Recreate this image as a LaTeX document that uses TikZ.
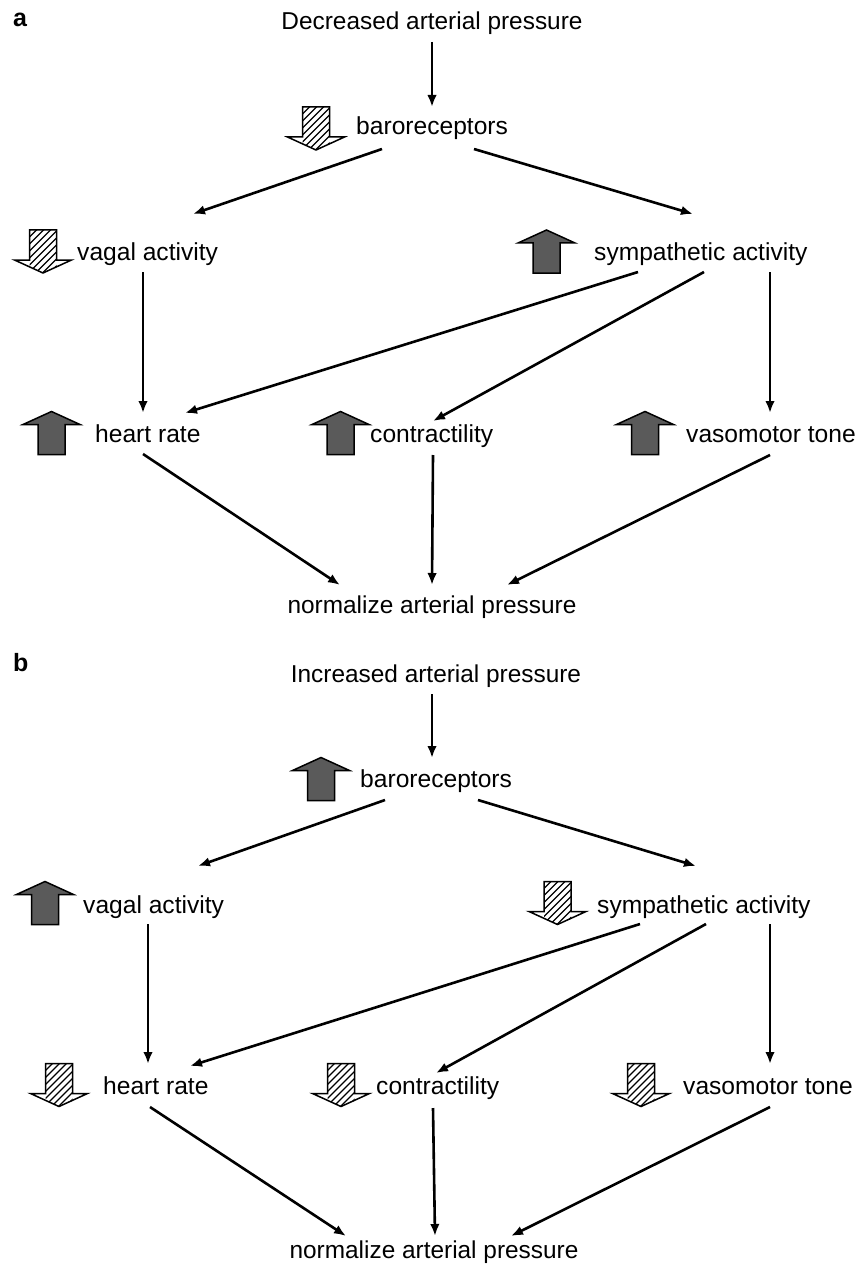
\documentclass[tikz,border=0pt]{standalone}
\usepackage{fontspec}
\setmainfont{Liberation Sans}
\usetikzlibrary{arrows.meta,calc}
\definecolor{arrgrey}{RGB}{90,90,90}
\tikzset{
  lbl/.style={font=\fontsize{24.6pt}{29pt}\selectfont, inner sep=0pt, anchor=base west},
  ttl/.style={font=\fontsize{24.4pt}{29pt}\selectfont, inner sep=0pt, anchor=base},
  panel/.style={font=\bfseries\fontsize{25pt}{29pt}\selectfont, inner sep=0pt, anchor=base west},
  conn/.style={line width=2.6pt, -{Latex[length=12pt,width=9.5pt]}},
  uparr/.pic={
    \draw[line width=1.5pt, fill=arrgrey, line join=miter]
      (0,-21.5) -- (28.5,-8.5) -- (13.5,-8.5) -- (13.5,21.5) -- (-13.5,21.5) -- (-13.5,-8.5) -- (-28.5,-8.5) -- cycle;
  },
  downarr/.pic={
    \begin{scope}
      \clip (0,21.5) -- (28.5,8.5) -- (13.5,8.5) -- (13.5,-21.5) -- (-13.5,-21.5) -- (-13.5,8.5) -- (-28.5,8.5) -- cycle;
      \clip (-13.5,-22) rectangle (13.5,22);
      \foreach \k in {-56,-49,...,56} \draw[line width=1.2pt] ({\k-22},22) -- ({\k+22},-22);
    \end{scope}
    \draw[line width=1.5pt, line join=miter]
      (0,21.5) -- (28.5,8.5) -- (13.5,8.5) -- (13.5,-21.5) -- (-13.5,-21.5) -- (-13.5,8.5) -- (-28.5,8.5) -- cycle;
  }
}
\begin{document}
\begin{tikzpicture}[x=1pt,y=-1pt]
\useasboundingbox[fill=white] (0,0) rectangle (862,1265);

% ---------------- panel a ----------------
\node[panel] (pa) at (13,27) {a};
\node[ttl] (ta) at (432,30) {Decreased arterial pressure};
\node[lbl] (baroA) at (356,135) {baroreceptors};
\node[lbl] (vagA) at (77,261) {vagal activity};
\node[lbl] (sympA) at (594,261) {sympathetic activity};
\node[lbl] (heartA) at (95,442) {heart rate};
\node[lbl] (contrA) at (370,442) {contractility};
\node[lbl] (vasoA) at (686,442) {vasomotor tone};
\node[ttl] (normA) at (432,613) {normalize arterial pressure};

\pic at (316,128.5) {downarr};
\pic at (43,251.5) {downarr};
\pic at (546.5,251.5) {uparr};
\pic at (51.5,433) {uparr};
\pic at (340.5,433) {uparr};
\pic at (645,433) {uparr};

\draw[conn] ($(ta.base)+(0,12)$) -- ($(baroA.base west)+(76,-28)$);
\draw[conn] ($(baroA.base west)+(26,14)$) -- ($(vagA.base west)+(116,-47)$);
\draw[conn] ($(baroA.base west)+(118,14)$) -- ($(sympA.base west)+(99,-47)$);
\draw[conn] ($(vagA.base west)+(66,11)$) -- ($(heartA.base west)+(48,-29)$);
\draw[conn] ($(sympA.base west)+(44,11)$) -- ($(heartA.base west)+(90,-29)$);
\draw[conn] ($(sympA.base west)+(110,11)$) -- ($(contrA.base west)+(63,-21)$);
\draw[conn] ($(sympA.base west)+(176,11)$) -- ($(vasoA.base west)+(84,-29)$);
\draw[conn] ($(heartA.base west)+(48,12)$) -- ($(normA.base)+(-92,-28)$);
\draw[conn] ($(contrA.base west)+(63,13)$) -- ($(normA.base)+(0,-28)$);
\draw[conn] ($(vasoA.base west)+(84,13)$) -- ($(normA.base)+(75,-28)$);

% ---------------- panel b ----------------
\node[panel] (pb) at (13,671) {b};
\node[ttl] (tb) at (436,682) {Increased arterial pressure};
\node[lbl] (baroB) at (360,787) {baroreceptors};
\node[lbl] (vagB) at (83,913) {vagal activity};
\node[lbl] (sympB) at (597,913) {sympathetic activity};
\node[lbl] (heartB) at (103,1094) {heart rate};
\node[lbl] (contrB) at (376,1094) {contractility};
\node[lbl] (vasoB) at (683,1094) {vasomotor tone};
\node[ttl] (normB) at (434,1258) {normalize arterial pressure};

\pic at (321,779) {uparr};
\pic at (45,903) {uparr};
\pic at (557.5,903) {downarr};
\pic at (59,1085) {downarr};
\pic at (341,1085) {downarr};
\pic at (641,1085) {downarr};

\draw[conn] ($(tb.base)+(-4,12)$) -- ($(baroB.base west)+(72,-29)$);
\draw[conn] ($(baroB.base west)+(25,13)$) -- ($(vagB.base west)+(115,-47)$);
\draw[conn] ($(baroB.base west)+(118,13)$) -- ($(sympB.base west)+(99,-47)$);
\draw[conn] ($(vagB.base west)+(65,11)$) -- ($(heartB.base west)+(45,-30)$);
\draw[conn] ($(sympB.base west)+(43,11)$) -- ($(heartB.base west)+(87,-28)$);
\draw[conn] ($(sympB.base west)+(109,11)$) -- ($(contrB.base west)+(60,-21)$);
\draw[conn] ($(sympB.base west)+(173,11)$) -- ($(vasoB.base west)+(87,-30)$);
\draw[conn] ($(heartB.base west)+(47,13)$) -- ($(normB.base)+(-88,-22)$);
\draw[conn] ($(contrB.base west)+(57,14)$) -- ($(normB.base)+(1,-22)$);
\draw[conn] ($(vasoB.base west)+(87,13)$) -- ($(normB.base)+(77,-22)$);
\end{tikzpicture}
\end{document}
